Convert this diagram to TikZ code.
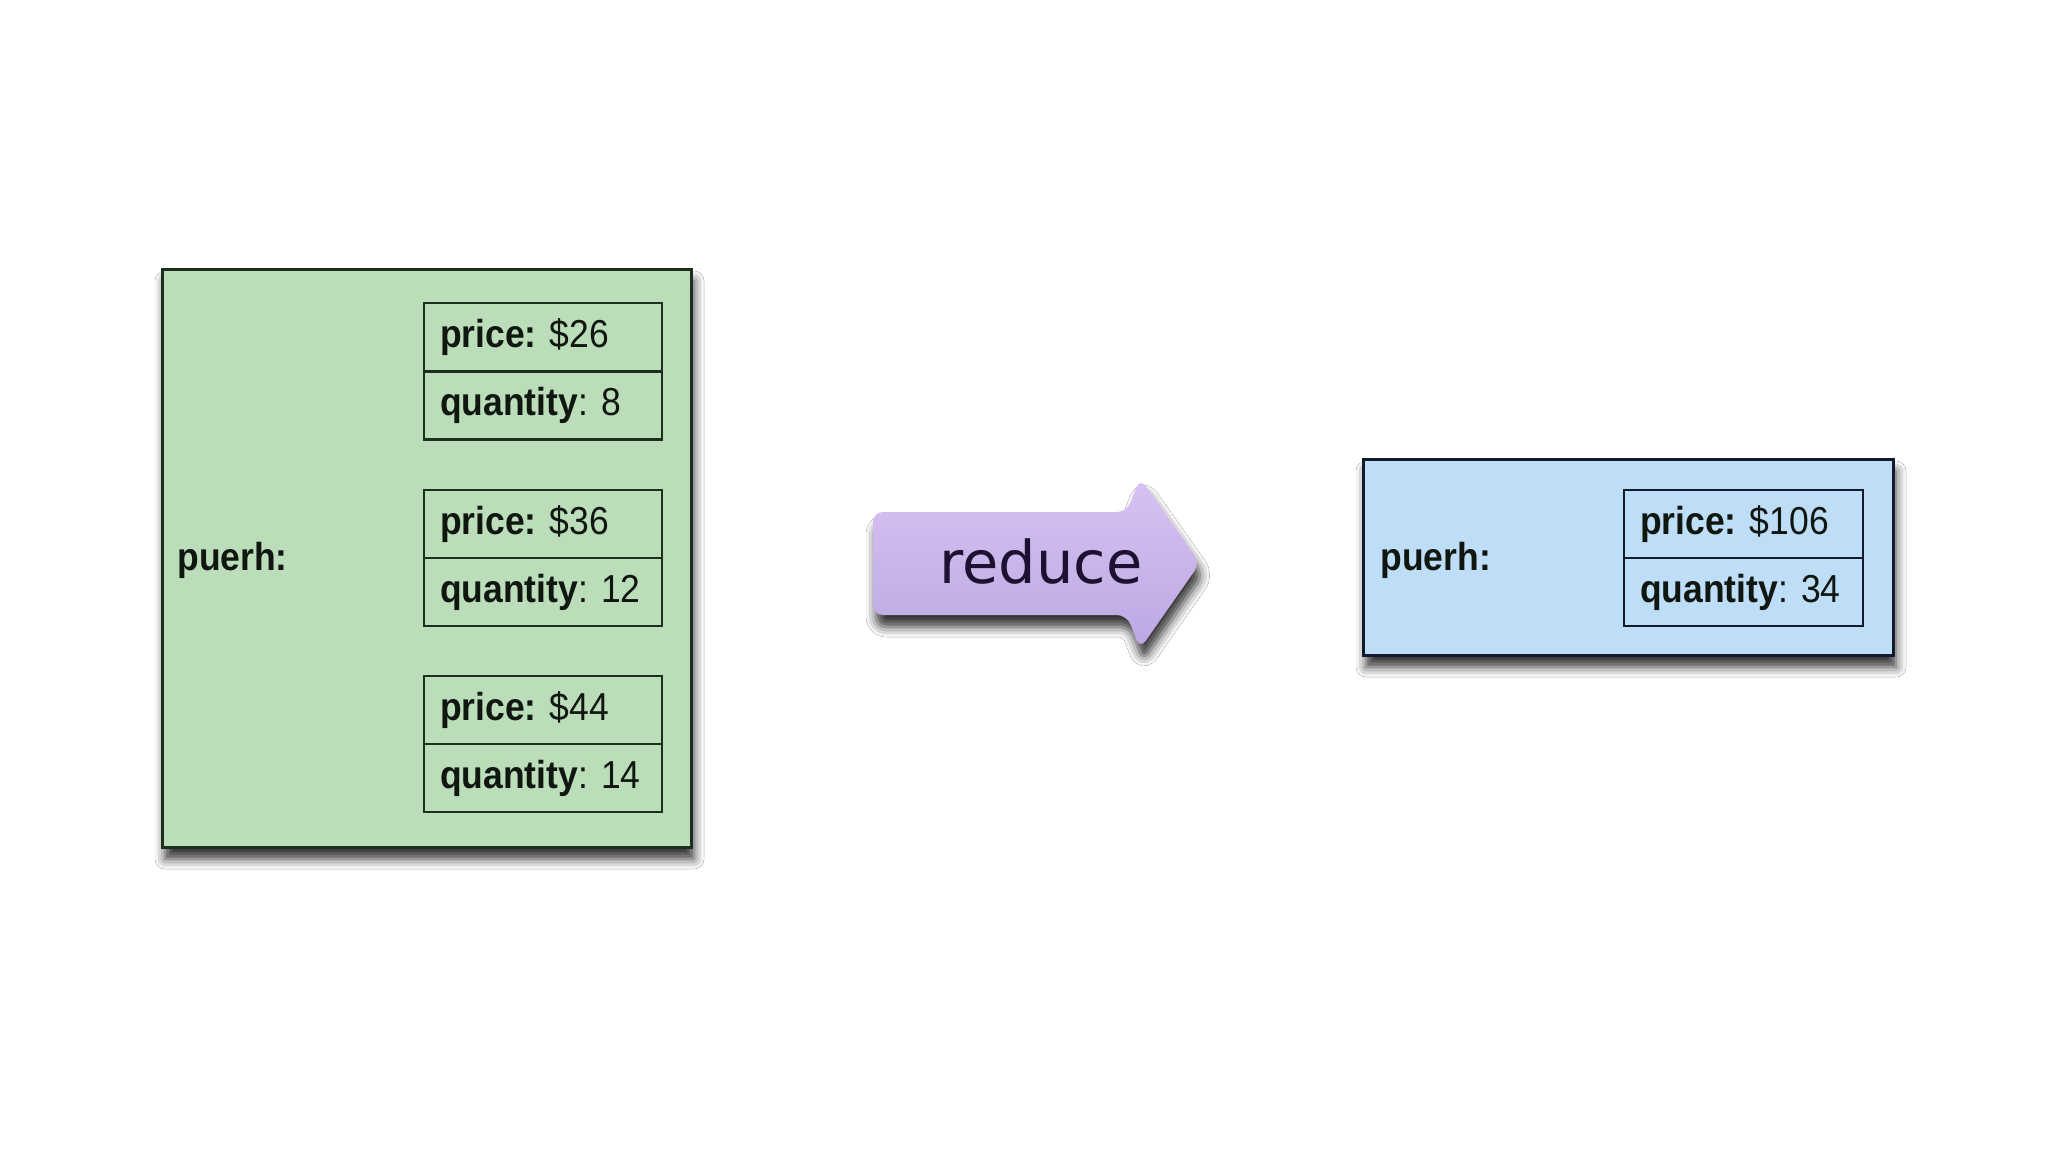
\documentclass[tikz,border=0pt]{standalone}
\usepackage{fontspec}
\newfontfamily\lblfont[FakeStretch=0.91]{Liberation Sans}
\newfontfamily\arrowfont{DejaVu Sans}
\usetikzlibrary{shadows.blur}
\definecolor{gfill}{HTML}{BCDDB9}
\definecolor{gline}{HTML}{1C2E1C}
\definecolor{bfill}{HTML}{BEDDF6}
\definecolor{bline}{HTML}{101C2C}
\definecolor{ptop}{HTML}{D8C2F4}
\definecolor{pbot}{HTML}{BCA8E2}
\definecolor{txt}{HTML}{101610}
\definecolor{atxt}{HTML}{1E1030}
\newcommand{\celltext}[1]{\makebox[103pt][l]{#1}}
\begin{document}
\begin{tikzpicture}[x=0.5pt,y=-0.5pt,
  shad/.style={blur shadow={shadow xshift=1.5pt, shadow yshift=-6pt, shadow blur radius=5pt, shadow opacity=80}},
  gbox/.style={draw=gline, fill=gfill, line width=1.5pt, inner sep=0pt, shad},
  bbox/.style={draw=bline, fill=bfill, line width=1.5pt, inner sep=0pt, shad},
  lbl/.style={font=\lblfont\fontsize{19.5}{23}\selectfont, text=txt, inner sep=0pt},
  gcell/.style={lbl, draw=gline, fill=gfill, line width=1.4pt, inner xsep=8pt, inner ysep=0pt, minimum height=34pt},
  bcell/.style={lbl, draw=bline, fill=bfill, line width=1.4pt, inner xsep=8pt, inner ysep=0pt, minimum height=34pt},
  arrowshape/.style={top color=ptop, bottom color=pbot, rounded corners=5pt, shad},
  arrowtext/.style={font=\arrowfont\fontsize{29.5}{32}\selectfont, text=atxt, inner sep=0pt}
]
\useasboundingbox (0,0) rectangle (2048,1152);
\fill[white] (0,0) rectangle (2048,1152);

% green (input) box
\node[gbox, minimum width=264.5pt, minimum height=289pt] (green) at (426.5,558) {};
\node[lbl, anchor=west] (gkey) at (177,560) {\bfseries puerh:};
\node[gcell] (g1p) at (543,337)   {\celltext{\textbf{price:} \$26}};
\node[gcell] (g1q) at (543,405.5) {\celltext{\textbf{quantity}: 8}};
\node[gcell] (g2p) at (543,524)   {\celltext{\textbf{price:} \$36}};
\node[gcell] (g2q) at (543,592)   {\celltext{\textbf{quantity}: 12}};
\node[gcell] (g3p) at (543,710)   {\celltext{\textbf{price:} \$44}};
\node[gcell] (g3q) at (543,778)   {\celltext{\textbf{quantity}: 14}};

% reduce arrow
\path[arrowshape] (873,512) -- (1127,512) -- (1140,478) -- (1200,563)
  -- (1140,649) -- (1127,615) -- (873,615) -- cycle;
\node[arrowtext, anchor=base] (reduce) at (1041,583) {reduce};

% blue (output) box
\node[bbox, minimum width=265pt, minimum height=98pt] (blue) at (1628,557) {};
\node[lbl, anchor=west] (bkey) at (1380,560) {\bfseries puerh:};
\node[bcell] (bp) at (1743.5,524) {\makebox[103.5pt][l]{\textbf{price:} \$106}};
\node[bcell] (bq) at (1743.5,592) {\makebox[103.5pt][l]{\textbf{quantity}: 34}};
\end{tikzpicture}
\end{document}
